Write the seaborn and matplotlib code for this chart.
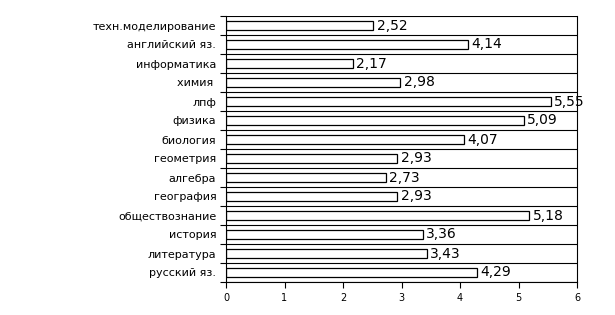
import matplotlib
matplotlib.use("Agg")
import matplotlib.pyplot as plt
import seaborn as sns
import pandas as pd
import numpy as np
from matplotlib.ticker import FixedLocator

subjects = ["техн.моделирование", "английский яз.", "информатика", "химия ", "лпф",
            "физика", "биология", "геометрия", "алгебра", "география",
            "обществознание", "история", "литература", "русский яз."]
values = [2.52, 4.14, 2.17, 2.98, 5.55, 5.09, 4.07, 2.93, 2.73, 2.93, 5.18, 3.36, 3.43, 4.29]
xticks = [0, 1, 2, 3, 4, 5, 6]

sns.set_theme(style="white")
plt.rcParams['font.family'] = ['DejaVu Sans']
plt.rcParams['text.color'] = 'black'
plt.rcParams['xtick.color'] = 'black'
plt.rcParams['ytick.color'] = 'black'
plt.rcParams['xtick.labelcolor'] = 'black'
plt.rcParams['ytick.labelcolor'] = 'black'

df = pd.DataFrame({"subject": subjects, "value": values})

fig = plt.figure(figsize=(6.15, 3.15), dpi=100)
ax = fig.add_axes([226/615, 1-282/315, (577-226)/615, (282-16)/315])

sns.barplot(data=df, y="subject", x="value", orient="h", color="white",
            edgecolor="black", linewidth=0.9, width=0.45, ax=ax)

n = len(subjects)
ax.set_xlim(0, 6)
ax.set_ylim(n - 0.5, -0.5)
ax.set_xticks(xticks)
ax.set_xticklabels([str(t) for t in xticks], fontsize=7, color="black")
ax.set_yticks(range(n))
ax.set_yticklabels(subjects, fontsize=8, color="black")
ax.yaxis.set_minor_locator(FixedLocator(np.arange(-0.5, n, 1.0)))
ax.tick_params(axis="y", which="major", length=0, pad=7)
ax.tick_params(axis="y", which="minor", length=4, width=0.8, color="black", direction="out", left=True)
ax.tick_params(axis="x", which="major", length=4, width=0.8, color="black", direction="out", bottom=True, pad=4)
ax.grid(True, axis="y", which="minor", color="black", linewidth=0.8)
ax.grid(False, axis="x")
ax.set_xlabel("")
ax.set_ylabel("")

for s in ["left", "right", "bottom"]:
    ax.spines[s].set_visible(True)
    ax.spines[s].set_color("black")
    ax.spines[s].set_linewidth(0.8)
ax.spines["top"].set_visible(False)

for i, v in enumerate(values):
    ax.text(v + 0.06, i, f"{v:.2f}".replace(".", ","), va="center", ha="left",
            fontsize=10, color="black")

fig.savefig("out.png", dpi=100, facecolor="white")
